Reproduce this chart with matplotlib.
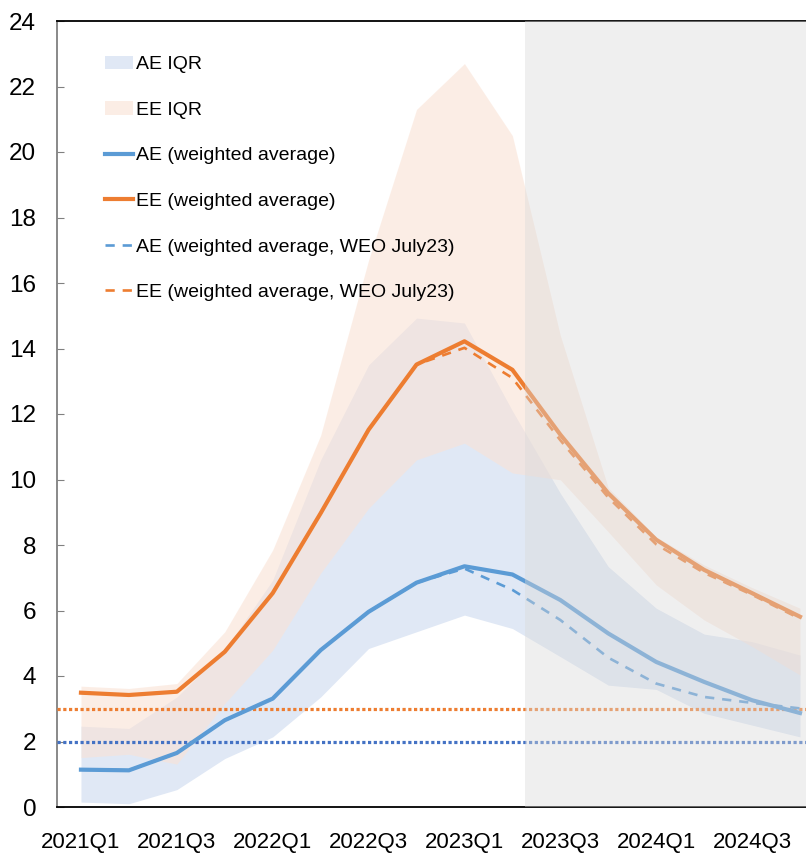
import matplotlib
matplotlib.use("Agg")
import matplotlib.pyplot as plt
import numpy as np

plt.rcParams['font.family'] = ['Liberation Sans', 'DejaVu Sans']

quarters = ["2021Q1", "2021Q2", "2021Q3", "2021Q4",
            "2022Q1", "2022Q2", "2022Q3", "2022Q4",
            "2023Q1", "2023Q2", "2023Q3", "2023Q4",
            "2024Q1", "2024Q2", "2024Q3", "2024Q4"]

# interquartile ranges
ae_lo = [0.15, 0.10, 0.53, 1.48, 2.14, 3.36, 4.84, 5.35, 5.86, 5.45, 4.59, 3.72, 3.59, 2.86, 2.50, 2.14]
ae_hi = [2.47, 2.40, 3.36, 4.80, 6.93, 10.6, 13.5, 14.93, 14.78, 12.1, 9.58, 7.34, 6.07, 5.28, 5.05, 4.64]
ee_lo = [1.51, 1.61, 1.31, 3.16, 4.79, 7.14, 9.12, 10.6, 11.11, 10.2, 9.99, 8.40, 6.78, 5.71, 4.90, 4.03]
ee_hi = [3.69, 3.62, 3.77, 5.35, 7.85, 11.35, 16.7, 21.3, 22.7, 20.5, 14.4, 9.75, 8.25, 7.39, 6.70, 6.07]

# weighted averages
ae_avg = [1.14, 1.12, 1.65, 2.65, 3.31, 4.79, 5.96, 6.85, 7.35, 7.10, 6.32, 5.30, 4.43, 3.82, 3.26, 2.87]
ee_avg = [3.49, 3.42, 3.52, 4.74, 6.53, 8.97, 11.52, 13.51, 14.22, 13.35, 11.37, 9.58, 8.16, 7.24, 6.53, 5.81]
ae_jul = [1.14, 1.12, 1.65, 2.65, 3.31, 4.79, 5.96, 6.85, 7.28, 6.63, 5.71, 4.56, 3.77, 3.36, 3.18, 3.01]
ee_jul = [3.49, 3.42, 3.52, 4.74, 6.53, 8.97, 11.52, 13.51, 14.02, 13.10, 11.20, 9.45, 8.02, 7.15, 6.48, 5.75]

ae_target = 2.0
ee_target = 3.0
proj_start = 9.27

x = np.arange(len(quarters))

fig = plt.figure(figsize=(8.06, 8.56), dpi=100)
ax = fig.add_axes([57/806, 1-807/856, 1-57/806, (807-21)/856])

ax.fill_between(x, ae_lo, ae_hi, color="#E0E8F5", lw=0, label="AE IQR", zorder=1)
ax.fill_between(x, ee_lo, ee_hi, color=(250/255, 227/255, 214/255), alpha=0.61, lw=0,
                label="EE IQR", zorder=2)

ax.axhline(ae_target, color="#4472C4", lw=2.3, ls=(0, (1, 0.8)), zorder=3)
ax.axhline(ee_target, color="#ED7D31", lw=2.3, ls=(0, (1, 0.8)), zorder=3)

ax.plot(x, ae_avg, color="#5B9BD5", lw=3.0, label="AE (weighted average)", zorder=5)
ax.plot(x, ee_avg, color="#ED7D31", lw=3.0, label="EE (weighted average)", zorder=5)
ax.plot(x, ae_jul, color="#5B9BD5", lw=1.9, ls=(0, (3.5, 3)),
        label="AE (weighted average, WEO July23)", zorder=6)
ax.plot(x, ee_jul, color="#ED7D31", lw=1.9, ls=(0, (3.5, 3)),
        label="EE (weighted average, WEO July23)", zorder=6)

# projection shading over the lines
ax.axvspan(proj_start, 20, color="#D9D9D9", alpha=0.4, lw=0, zorder=8)

ax.set_xlim(-0.5, (806-80)/48)
ax.set_ylim(0, 24)
ax.set_yticks(range(0, 25, 2))
ax.set_xticks(x[::2])
ax.set_xticklabels(quarters[::2])

ax.tick_params(axis="y", direction="in", length=5, color="#808080", labelsize=17.5, pad=15)
ax.tick_params(axis="x", length=0, labelsize=16, pad=18)
ax.spines["left"].set_color("#808080")
ax.spines["left"].set_linewidth(1.3)
ax.spines["bottom"].set_color("black")
ax.spines["bottom"].set_linewidth(1.3)
ax.spines["top"].set_color("black")
ax.spines["top"].set_linewidth(1.3)
ax.spines["right"].set_visible(False)

leg = ax.legend(loc="upper left", bbox_to_anchor=(0.064, 0.956), frameon=False,
                fontsize=14, handlelength=1.44, handletextpad=0.15, labelspacing=1.44,
                borderpad=0, borderaxespad=0)
leg.set_zorder(10)

fig.savefig("out.png", dpi=100)
